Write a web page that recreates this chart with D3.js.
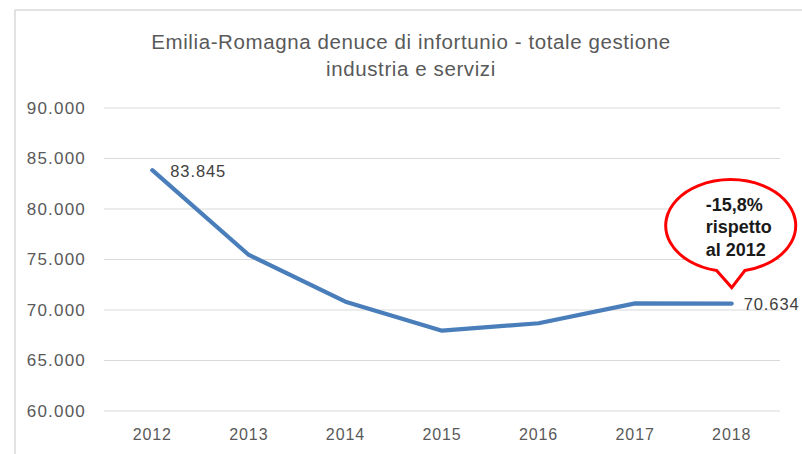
<!DOCTYPE html>
<html>
<head>
<meta charset="utf-8">
<script src="https://cdn.jsdelivr.net/npm/d3@7"></script>
<style>
  html, body { margin: 0; padding: 0; background: #fff; }
  svg { display: block; font-family: "Liberation Sans", Arial, sans-serif; }
</style>
</head>
<body>
<svg id="chart" width="802" height="454"></svg>
<script>
const years = ["2012", "2013", "2014", "2015", "2016", "2017", "2018"];
const denunce = [83845, 75450, 70820, 67950, 68690, 70660, 70634];
const yTicks = [60000, 65000, 70000, 75000, 80000, 85000, 90000];
const titleLines = ["Emilia-Romagna denuce di infortunio - totale gestione", "industria e servizi"];
const labelledYears = ["2012", "2018"];
const calloutLines = ["-15,8%", "rispetto", "al 2012"];

const svg = d3.select("#chart");
const fmtInt = d3.formatLocale({ decimal: ",", thousands: ".", grouping: [3] }).format(",d");

// chart frame
svg.append("line").attr("x1", 15).attr("x2", 15).attr("y1", 10).attr("y2", 454)
  .attr("stroke", "#d9d9d9").attr("stroke-width", 1.5);
svg.append("line").attr("x1", 15).attr("x2", 802).attr("y1", 10).attr("y2", 10)
  .attr("stroke", "#d9d9d9").attr("stroke-width", 1.5);

const x = d3.scaleBand().domain(years).range([104, 780]).padding(0);
const y = d3.scaleLinear().domain([60000, 90000]).range([411, 108]);

// title
const title = svg.append("text").attr("text-anchor", "middle").attr("fill", "#595959")
  .style("font-size", "20.5px").style("letter-spacing", "0.6px");
titleLines.forEach((t, i) => {
  title.append("tspan").attr("x", 411).attr("y", 49 + i * 27).text(t);
});

// gridlines
svg.append("g").selectAll("line").data(yTicks).join("line")
  .attr("x1", 104).attr("x2", 780)
  .attr("y1", d => y(d)).attr("y2", d => y(d))
  .attr("stroke", "#d9d9d9").attr("stroke-width", 1.2);

// y axis labels
const yAxis = svg.append("g").attr("transform", "translate(86,0)")
  .call(d3.axisLeft(y).tickValues(yTicks).tickFormat(fmtInt).tickSize(0).tickPadding(0));
yAxis.select(".domain").remove();
yAxis.selectAll("text").attr("fill", "#595959").style("font-size", "17px")
  .style("letter-spacing", "1.2px").style("font-family", "Liberation Sans, Arial, sans-serif");

// x axis labels
const xAxis = svg.append("g").attr("transform", "translate(0,429)")
  .call(d3.axisBottom(x).tickSize(0).tickPadding(0));
xAxis.select(".domain").remove();
xAxis.selectAll("text").attr("fill", "#595959").style("font-size", "16px")
  .style("letter-spacing", "0.9px").style("font-family", "Liberation Sans, Arial, sans-serif");

// line
const pts = years.map((yr, i) => ({ yr, v: denunce[i] }));
const line = d3.line().x(d => x(d.yr) + x.bandwidth() / 2).y(d => y(d.v));
svg.append("path").datum(pts).attr("d", line)
  .attr("fill", "none").attr("stroke", "#4a7ebb").attr("stroke-width", 4.2)
  .attr("stroke-linejoin", "round").attr("stroke-linecap", "round");

// data labels
svg.append("g").selectAll("text").data(pts.filter(d => labelledYears.includes(d.yr))).join("text")
  .attr("x", d => x(d.yr) + x.bandwidth() / 2 + (d.yr === "2012" ? 18 : 12))
  .attr("y", d => y(d.v) + 6.5)
  .attr("fill", "#404040").style("font-size", "16.5px").style("letter-spacing", "0.9px")
  .text(d => fmtInt(d.v));

// callout
const last = pts[pts.length - 1];
const cx = x(last.yr) + x.bandwidth() / 2;
const tipY = y(last.v) - 16;
const ex = cx - 1, ey = tipY - 62, rx = 65, ry = 46;
const a1 = Math.PI / 2 + 0.22, a2 = Math.PI / 2 - 0.22;
const p1 = [ex + rx * Math.cos(a1), ey + ry * Math.sin(a1)];
const p2 = [ex + rx * Math.cos(a2), ey + ry * Math.sin(a2)];
const callPath = `M${p2[0]},${p2[1]} A${rx},${ry} 0 1,0 ${p1[0]},${p1[1]} L${cx},${tipY} Z`;
svg.append("path").attr("d", callPath)
  .attr("fill", "#fff").attr("stroke", "#ff0000").attr("stroke-width", 3)
  .attr("stroke-linejoin", "miter");
const ct = svg.append("text").attr("fill", "#1a1a1a").style("font-weight", "bold")
  .style("font-size", "18px");
calloutLines.forEach((t, i) => {
  ct.append("tspan").attr("x", ex - 25).attr("y", ey - 15 + i * 22.5).text(t);
});
</script>
</body>
</html>
